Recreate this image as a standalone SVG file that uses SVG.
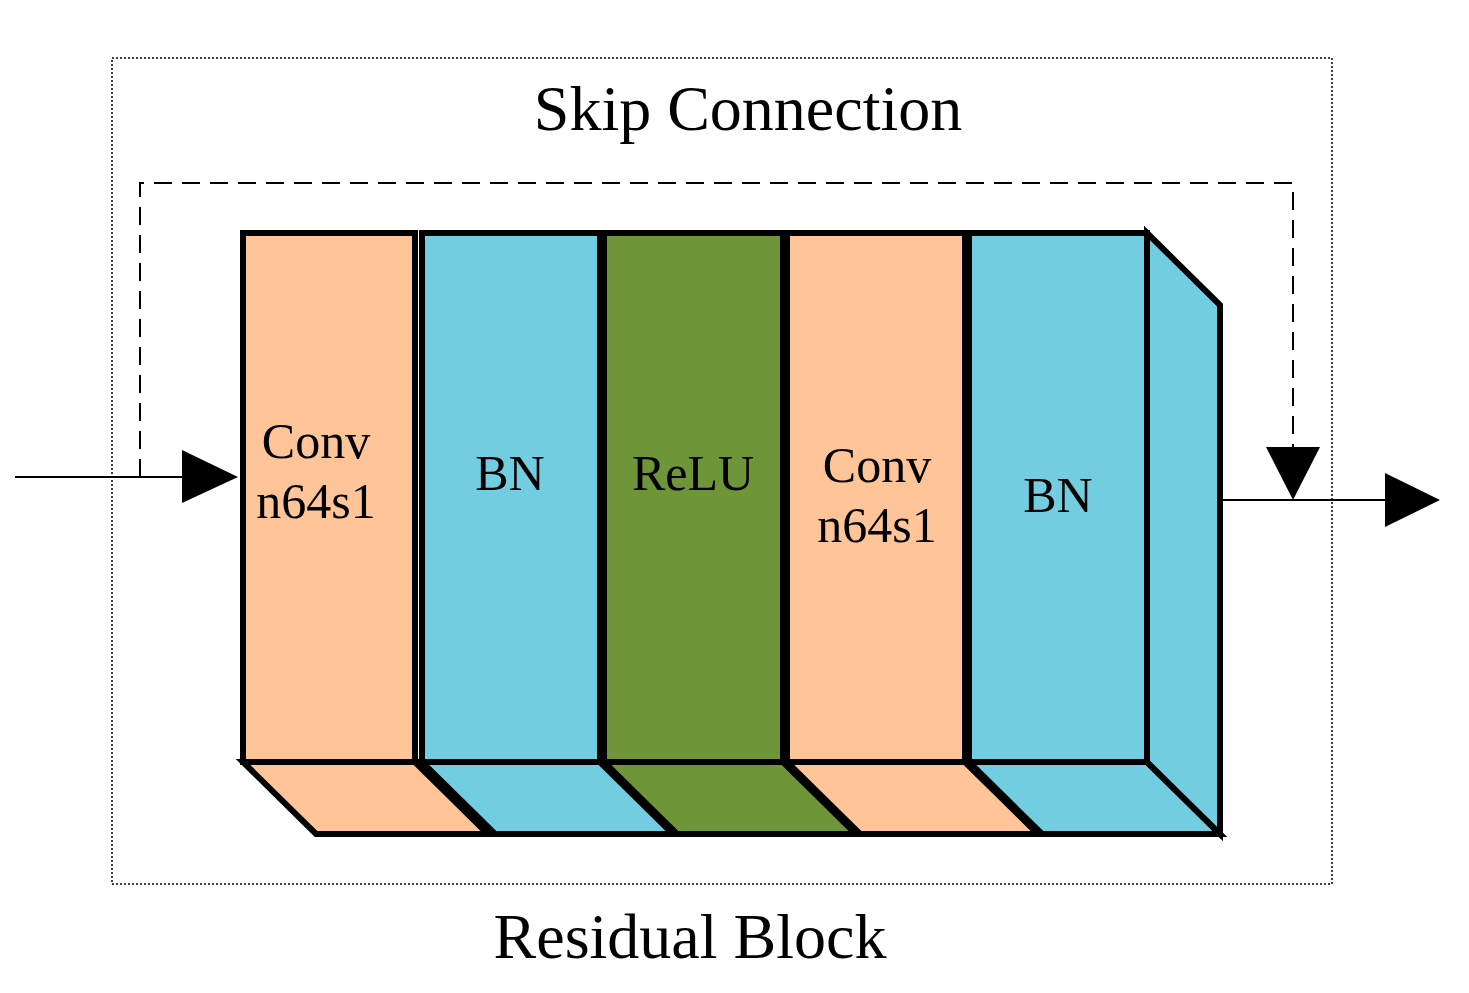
<svg xmlns="http://www.w3.org/2000/svg" width="1469" height="993" viewBox="0 0 1469 993">
<style>
.t{font-family:"Liberation Serif","DejaVu Serif",serif;fill:#000;text-anchor:middle}
.b{stroke:#000;stroke-width:6;stroke-linejoin:miter}
.peach{fill:#FFC498}.blue{fill:#72CDE0}.green{fill:#6E9537}
</style>
<rect width="1469" height="993" fill="#fff"/>
<rect x="112" y="58" width="1220" height="826" fill="none" stroke="#000" stroke-width="1.5" stroke-dasharray="2,2"/>
<text class="t" x="748" y="130" font-size="64">Skip Connection</text>
<text class="t" x="690" y="958" font-size="64">Residual Block</text>
<g id="conv1"><polygon class="b peach" points="243,762 415,762 488,834 316,834"/><rect class="b peach" x="243" y="233" width="172" height="529"/><text class="t" x="316" y="458" font-size="50">Conv</text><text class="t" x="316" y="518" font-size="50">n64s1</text></g>
<g id="bn1"><polygon class="b blue" points="422,762 600,762 673,834 495,834"/><rect class="b blue" x="422" y="233" width="178" height="529"/><text class="t" x="510" y="490" font-size="50">BN</text></g>
<g id="relu"><polygon class="b green" points="604,762 783,762 856,834 677,834"/><rect class="b green" x="604" y="233" width="179" height="529"/><text class="t" x="693" y="490" font-size="50">ReLU</text></g>
<g id="conv2"><polygon class="b peach" points="787,762 965,762 1038,834 860,834"/><rect class="b peach" x="787" y="233" width="178" height="529"/><text class="t" x="877" y="482" font-size="50">Conv</text><text class="t" x="877" y="542" font-size="50">n64s1</text></g>
<g id="bn2"><polygon class="b blue" points="969,762 1147,762 1220,834 1042,834"/><polygon class="b blue" points="1147,233 1220,305 1220,834 1147,762"/><rect class="b blue" x="969" y="233" width="178" height="529"/><text class="t" x="1058" y="512" font-size="50">BN</text></g>
<g id="connectors">
<polyline points="140,477 140,183 1293,183 1293,448" fill="none" stroke="#000" stroke-width="2" stroke-dasharray="18,10"/>
<polygon points="1266,447 1320,447 1293,500"/>
<line x1="15" y1="477" x2="184" y2="477" stroke="#000" stroke-width="2"/>
<polygon points="182,450 238,477 182,503"/>
<line x1="1222" y1="500" x2="1387" y2="500" stroke="#000" stroke-width="2"/>
<polygon points="1385,473 1440,500 1385,527"/>
</g>
</svg>
